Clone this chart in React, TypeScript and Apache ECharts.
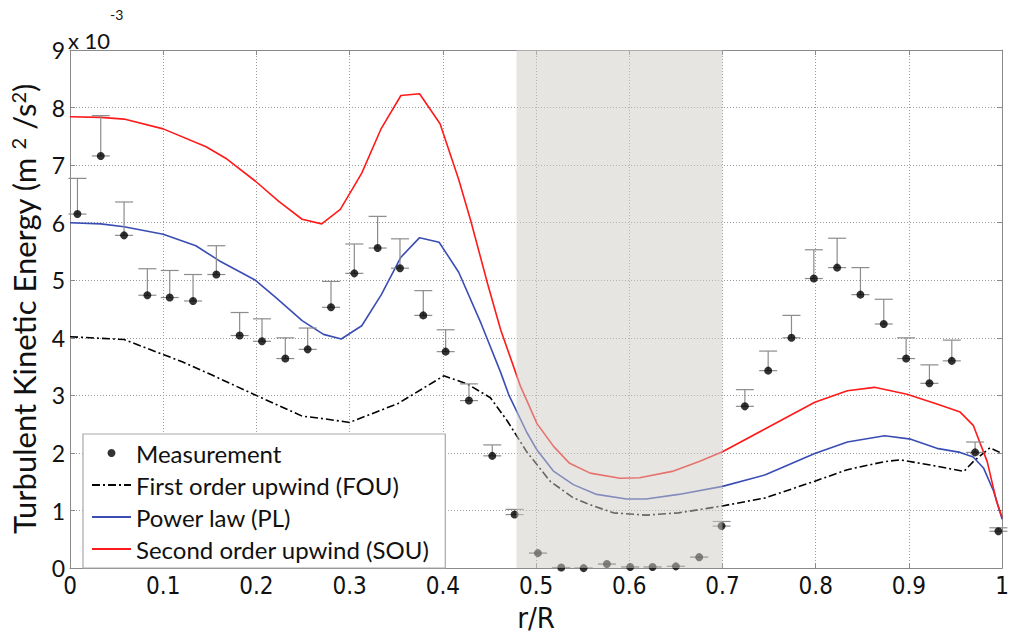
import React, { useEffect, useRef } from "react";
import * as echarts from "echarts";

// Measured turbulent kinetic energy (x 10^-3 m^2/s^2) and upper error limits
const measR = [0.008, 0.033, 0.058, 0.083, 0.107, 0.132, 0.157, 0.182, 0.206, 0.231, 0.255, 0.28, 0.305, 0.33, 0.354, 0.379, 0.403, 0.428, 0.453, 0.477, 0.502, 0.527, 0.551, 0.576, 0.601, 0.625, 0.65, 0.675, 0.699, 0.724, 0.749, 0.774, 0.798, 0.823, 0.848, 0.873, 0.897, 0.922, 0.946, 0.971, 0.996];
const measK = [6.15, 7.16, 5.78, 4.74, 4.7, 4.64, 5.1, 4.04, 3.94, 3.64, 3.8, 4.53, 5.12, 5.56, 5.21, 4.39, 3.76, 2.91, 1.95, 0.93, 0.26, 0.01, 0.0, 0.07, 0.02, 0.02, 0.03, 0.19, 0.73, 2.81, 3.43, 4.0, 5.03, 5.22, 4.75, 4.24, 3.64, 3.21, 3.6, 2.01, 0.64];
const measTop = [6.77, 7.86, 6.36, 5.2, 5.17, 5.1, 5.6, 4.44, 4.33, 4.0, 4.17, 4.98, 5.63, 6.11, 5.72, 4.82, 4.14, 3.2, 2.14, 1.02, 0.26, 0.01, 0.0, 0.07, 0.02, 0.02, 0.03, 0.19, 0.81, 3.1, 3.77, 4.39, 5.53, 5.73, 5.22, 4.67, 4.0, 3.53, 3.96, 2.19, 0.7];

// First order upwind (FOU)
const fouR = [0, 0.058, 0.121, 0.15, 0.197, 0.249, 0.27, 0.3, 0.352, 0.401, 0.426, 0.451, 0.469, 0.49, 0.515, 0.54, 0.558, 0.583, 0.618, 0.653, 0.7, 0.746, 0.799, 0.834, 0.874, 0.891, 0.923, 0.959, 0.969, 0.987, 1.0];
const fouK = [4.02, 3.97, 3.58, 3.37, 3.02, 2.64, 2.6, 2.53, 2.86, 3.34, 3.2, 2.96, 2.56, 2.02, 1.51, 1.22, 1.1, 0.96, 0.92, 0.96, 1.08, 1.22, 1.51, 1.71, 1.85, 1.88, 1.79, 1.68, 1.85, 2.09, 1.99];

// Power law (PL)
const plR = [0, 0.033, 0.058, 0.1, 0.135, 0.16, 0.199, 0.22, 0.249, 0.272, 0.291, 0.313, 0.334, 0.355, 0.375, 0.396, 0.417, 0.441, 0.462, 0.471, 0.49, 0.501, 0.519, 0.54, 0.565, 0.597, 0.618, 0.653, 0.7, 0.746, 0.799, 0.834, 0.874, 0.902, 0.93, 0.955, 0.969, 0.98, 0.991, 1.0];
const plK = [6.0, 5.98, 5.93, 5.8, 5.6, 5.34, 5.0, 4.71, 4.3, 4.06, 3.98, 4.21, 4.75, 5.4, 5.74, 5.66, 5.14, 4.25, 3.4, 3.0, 2.36, 2.05, 1.68, 1.45, 1.28, 1.2, 1.2, 1.28, 1.42, 1.62, 1.99, 2.19, 2.3, 2.24, 2.08, 2.01, 1.93, 1.74, 1.33, 0.85];

// Second order upwind (SOU)
const souR = [0, 0.033, 0.058, 0.1, 0.146, 0.167, 0.199, 0.224, 0.249, 0.27, 0.29, 0.313, 0.334, 0.355, 0.375, 0.397, 0.417, 0.43, 0.448, 0.462, 0.483, 0.501, 0.519, 0.536, 0.558, 0.59, 0.611, 0.646, 0.675, 0.7, 0.746, 0.799, 0.834, 0.863, 0.898, 0.93, 0.955, 0.969, 0.984, 0.994, 1.0];
const souK = [7.84, 7.83, 7.8, 7.63, 7.32, 7.12, 6.72, 6.37, 6.06, 5.98, 6.23, 6.86, 7.64, 8.21, 8.24, 7.72, 6.75, 6.03, 4.94, 4.14, 3.17, 2.51, 2.11, 1.82, 1.65, 1.56, 1.57, 1.68, 1.85, 2.02, 2.42, 2.88, 3.08, 3.14, 3.02, 2.85, 2.71, 2.48, 1.85, 1.16, 0.88];

// Shaded r/R range
const bandR = [0.479, 0.7];

const seriesNames = ["Measurement", "First order upwind (FOU)", "Power law (PL)", "Second order upwind (SOU)"];

const zip = (a: number[], b: number[]) => a.map((v, i) => [v, b[i]]);

const LATO = "Lato, 'Open Sans', sans-serif";
const NARROW = "'Liberation Sans Narrow', 'DejaVu Sans Condensed', 'Open Sans', sans-serif";

export default function App() {
  const ref = useRef<HTMLDivElement>(null);

  useEffect(() => {
    const chart = echarts.init(ref.current!, null, { renderer: "svg" });
    const axisGray = "#8a8a8a";
    const hiddenMarker = { opacity: 0, color: "rgba(0,0,0,0)", borderWidth: 0 };
    const option: any = {
      animation: false,
      backgroundColor: "#ffffff",
      grid: { left: 66, right: 6, top: 50, bottom: 63, show: false },
      xAxis: [
        {
          type: "value",
          min: 0,
          max: 1,
          interval: 0.1,
          name: "r/R",
          nameLocation: "middle",
          nameGap: 11,
          nameTextStyle: { fontFamily: NARROW, fontSize: 29, color: "#111" },
          axisLine: { show: true, lineStyle: { color: axisGray, width: 1 } },
          axisTick: { show: true, inside: true, length: 5, lineStyle: { color: axisGray } },
          axisLabel: {
            margin: 6,
            fontFamily: NARROW,
            fontSize: 24,
            color: "#111",
            formatter: (v: number) => String(Math.round(v * 10) / 10),
          },
          splitLine: { show: true, lineStyle: { color: "#9a9a9a", type: [1, 2], width: 1 } },
        },
        {
          type: "value",
          position: "top",
          min: 0,
          max: 1,
          interval: 0.1,
          axisLine: { show: true, onZero: false, lineStyle: { color: axisGray, width: 1 } },
          axisTick: { show: true, inside: true, length: 5, lineStyle: { color: axisGray } },
          axisLabel: { show: false },
          splitLine: { show: false },
        },
      ],
      yAxis: [
        {
          type: "value",
          min: 0,
          max: 9,
          interval: 1,
          name: "Turbulent Kinetic Energy (m {sup|2} /s{sup|2})",
          nameLocation: "middle",
          nameGap: 31,
          nameRotate: 90,
          nameTextStyle: {
            fontFamily: LATO,
            fontSize: 31,
            color: "#111",
            rich: { sup: { fontFamily: LATO, fontSize: 20, verticalAlign: "top", color: "#111" } },
          },
          axisLine: { show: true, lineStyle: { color: axisGray, width: 1 } },
          axisTick: { show: true, inside: true, length: 5, lineStyle: { color: axisGray } },
          axisLabel: { margin: 5, fontFamily: LATO, fontSize: 23, color: "#111" },
          splitLine: { show: true, lineStyle: { color: "#9a9a9a", type: [1, 2], width: 1 } },
        },
        {
          type: "value",
          position: "right",
          min: 0,
          max: 9,
          interval: 1,
          axisLine: { show: true, onZero: false, lineStyle: { color: axisGray, width: 1 } },
          axisTick: { show: true, inside: true, length: 5, lineStyle: { color: axisGray } },
          axisLabel: { show: false },
          splitLine: { show: false },
        },
      ],
      legend: {
        data: [
          { name: seriesNames[0] },
          { name: seriesNames[1], itemStyle: hiddenMarker },
          { name: seriesNames[2], itemStyle: hiddenMarker },
          { name: seriesNames[3], itemStyle: hiddenMarker },
        ],
        orient: "vertical",
        left: 83,
        top: 434,
        itemWidth: 39,
        itemHeight: 8,
        itemGap: 8,
        padding: [7, 16, 7, 8],
        backgroundColor: "#ffffff",
        borderColor: "#a8a8a8",
        borderWidth: 1.2,
        borderRadius: 0,
        textStyle: { fontFamily: LATO, fontSize: 24, color: "#111", lineHeight: 24 },
      },
      graphic: [
        {
          type: "text",
          left: 68,
          top: 29,
          style: { text: "x 10", fontFamily: LATO, fontSize: 22, fill: "#111" },
        },
        {
          type: "text",
          left: 110,
          top: 7,
          style: { text: "-3", fontFamily: LATO, fontSize: 14, fill: "#111" },
        },
      ],
      series: [
        {
          name: "Error",
          type: "custom",
          z: 3,
          silent: true,
          data: measR.map((r, i) => [r, measK[i], measTop[i]]),
          encode: { x: 0, y: [1, 2] },
          renderItem: (params: any, api: any) => {
            const r = api.value(0);
            const lo = api.coord([r, api.value(1)]);
            const hi = api.coord([r, api.value(2)]);
            const half = 9;
            const style = { stroke: "#8c8c8c", lineWidth: 1.2 };
            return {
              type: "group",
              children: [
                { type: "line", shape: { x1: lo[0], y1: lo[1], x2: hi[0], y2: hi[1] }, style },
                { type: "line", shape: { x1: hi[0] - half, y1: hi[1], x2: hi[0] + half, y2: hi[1] }, style },
                { type: "line", shape: { x1: lo[0] - half, y1: lo[1], x2: lo[0] + half, y2: lo[1] }, style },
              ],
            };
          },
        },
        {
          name: "Measurement",
          type: "scatter",
          z: 4,
          symbol: "circle",
          symbolSize: 8,
          itemStyle: { color: "#000000" },
          data: zip(measR, measK),
        },
        {
          name: "First order upwind (FOU)",
          type: "line",
          z: 2,
          symbol: "none",
          lineStyle: { color: "#000000", width: 1.6, type: [8, 3, 2, 3] },
          itemStyle: { color: "#000000" },
          data: zip(fouR, fouK),
        },
        {
          name: "Power law (PL)",
          type: "line",
          z: 2,
          symbol: "none",
          lineStyle: { color: "#3a4db4", width: 1.6 },
          itemStyle: { color: "#3a4db4" },
          data: zip(plR, plK),
        },
        {
          name: "Second order upwind (SOU)",
          type: "line",
          z: 2,
          symbol: "none",
          lineStyle: { color: "#ff1a1a", width: 1.6 },
          itemStyle: { color: "#ff1a1a" },
          data: zip(souR, souK),
        },
        {
          name: "Band",
          type: "custom",
          z: 6,
          silent: true,
          data: [[bandR[0], bandR[1]]],
          encode: { x: [0, 1] },
          renderItem: (params: any, api: any) => {
            const p0 = api.coord([api.value(0), 9]);
            const p1 = api.coord([api.value(1), 0]);
            return {
              type: "rect",
              shape: { x: p0[0], y: p0[1], width: p1[0] - p0[0], height: p1[1] - p0[1] },
              style: { fill: "rgba(205,203,195,0.5)" },
            };
          },
        },
      ],
    };
    chart.setOption(option);
    return () => chart.dispose();
  }, []);

  return <div ref={ref} style={{ position: "fixed", left: 0, top: 0, width: 1012, height: 637 }} />;
}
